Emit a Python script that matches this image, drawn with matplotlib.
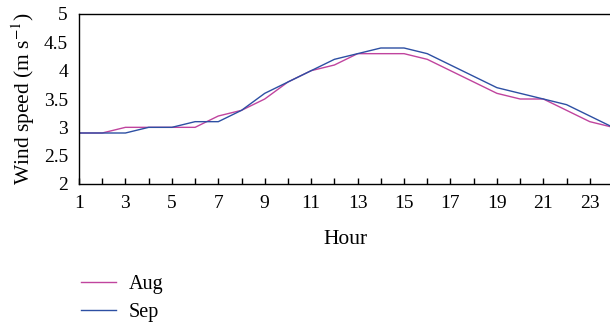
import matplotlib
matplotlib.use("Agg")
import matplotlib.pyplot as plt
from matplotlib.lines import Line2D

hours = list(range(1, 25))
aug = [2.9, 2.9, 3.0, 3.0, 3.0, 3.0, 3.2, 3.3, 3.5, 3.8, 4.0, 4.1,
       4.3, 4.3, 4.3, 4.2, 4.0, 3.8, 3.6, 3.5, 3.5, 3.3, 3.1, 3.0]
sep = [2.9, 2.9, 2.9, 3.0, 3.0, 3.1, 3.1, 3.3, 3.6, 3.8, 4.0, 4.2,
       4.3, 4.4, 4.4, 4.3, 4.1, 3.9, 3.7, 3.6, 3.5, 3.4, 3.2, 3.0]
yticks = [2, 2.5, 3, 3.5, 4, 4.5, 5]
ytick_labels = ['2', '2.5', '3', '3.5', '4', '4.5', '5']

plt.rcParams['font.family'] = ['Liberation Serif', 'DejaVu Serif']
plt.rcParams['mathtext.fontset'] = 'stix'
W, H = 610, 324
fig = plt.figure(figsize=(W / 100, H / 100), dpi=100)
x0, x1 = 79, 613
y0, y1 = 14, 184
ax = fig.add_axes([x0 / W, 1 - y1 / H, (x1 - x0) / W, (y1 - y0) / H])

c_aug = '#C0449E'
c_sep = '#2D4FA3'
ax.plot(hours, aug, color=c_aug, lw=1.0)
ax.plot(hours, sep, color=c_sep, lw=1.0)

ax.set_xlim(1, 24)
ax.set_ylim(2, 5)
ax.set_xticks(hours)
ax.set_xticklabels([str(h) if h % 2 == 1 else '' for h in hours])
ax.set_yticks(yticks)
ax.set_yticklabels(ytick_labels)
ax.tick_params(axis='x', direction='in', length=4, width=1, labelsize=14, pad=8)
ax.tick_params(axis='y', length=0, labelsize=14, pad=8)
for s in ['left', 'bottom', 'top']:
    ax.spines[s].set_linewidth(1.0)
    ax.spines[s].set_color('black')
ax.spines['right'].set_visible(False)

ax.set_xlabel('Hour', fontsize=15.5, labelpad=13)
ax.set_ylabel('Wind speed (m s$^{-1}$)', fontsize=15.5, labelpad=5)

handles = [Line2D([], [], color=c_aug, lw=1.0), Line2D([], [], color=c_sep, lw=1.0)]
fig.legend(handles, ['Aug', 'Sep'], loc='upper left',
           bbox_to_anchor=(73 / W, 1 - 267 / H), frameon=False,
           fontsize=14.5, handlelength=1.75, handletextpad=0.6, labelspacing=0.45,
           borderaxespad=0)

fig.savefig('out.png', dpi=100)
